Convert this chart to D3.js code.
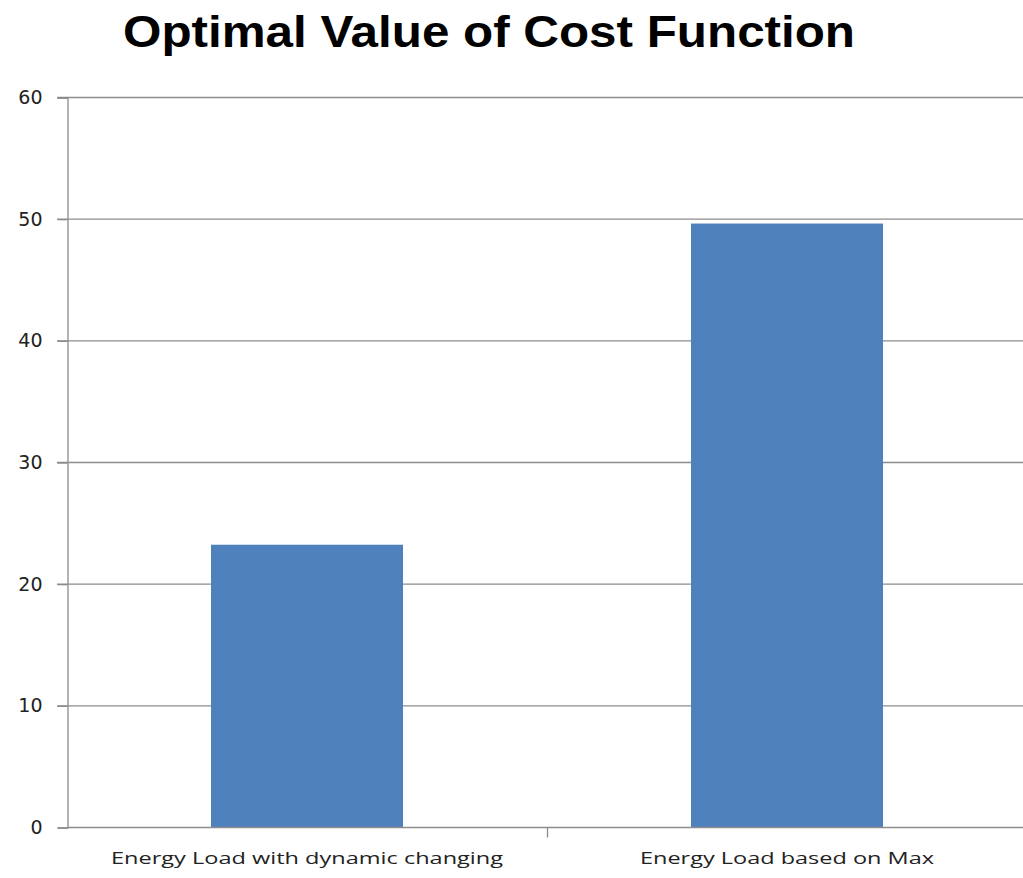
<!DOCTYPE html>
<html><head><meta charset="utf-8">
<script src="https://cdn.jsdelivr.net/npm/d3@7"></script>
<style>html,body{margin:0;padding:0;background:#fff;overflow:hidden}</style>
</head><body>
<script>
const categories = ["Energy Load with dynamic changing", "Energy Load based on Max"];
const values = [23.2, 49.6];
const yTicks = [0, 10, 20, 30, 40, 50, 60];
const titleText = "Optimal Value of Cost Function";

const W = 1023, H = 878;
const svg = d3.select("body").append("svg").attr("width", W).attr("height", H);

const x = d3.scaleBand().domain(categories).range([67, 1027]).paddingInner(0.6).paddingOuter(0.3);
const y = d3.scaleLinear().domain([0, 60]).range([827, 97]);

// gridlines
svg.append("g").selectAll("line").data(yTicks.filter(d => d > 0)).join("line")
  .attr("x1", 57).attr("x2", 1027)
  .attr("y1", d => y(d) + 0.5).attr("y2", d => y(d) + 0.5)
  .attr("stroke", "#8c8c8c").attr("stroke-width", 1.3);

// bars
svg.append("g").selectAll("rect").data(categories).join("rect")
  .attr("x", d => x(d)).attr("width", x.bandwidth())
  .attr("y", (d, i) => y(values[i])).attr("height", (d, i) => y(0) - y(values[i]))
  .attr("fill", "#4f81bd");

// y axis
const yAxis = d3.axisLeft(y).tickValues(yTicks).tickSize(10).tickPadding(15).tickFormat(d3.format("d"));
const ya = svg.append("g").attr("transform", "translate(67.5,0.5)").call(yAxis);
ya.attr("font-size", null).attr("font-family", null);
ya.select(".domain").attr("stroke", "#8c8c8c").attr("stroke-width", 1.3);
ya.selectAll(".tick line").attr("stroke", "#8c8c8c").attr("stroke-width", 1.3);
ya.selectAll("text").style("font-family", "'DejaVu Sans', Verdana, sans-serif").style("font-size", "19px").attr("fill", "#222");

// x axis
const xAxis = d3.axisBottom(x).tickSize(0).tickPadding(24);
const xa = svg.append("g").attr("transform", "translate(0,827.5)").call(xAxis);
xa.attr("font-size", null).attr("font-family", null);
xa.select(".domain").attr("d", "M67,0H1027").attr("stroke", "#8c8c8c").attr("stroke-width", 1.3);
xa.selectAll("text").style("font-family", "'Open Sans', sans-serif").style("font-size", "17px").attr("fill", "#222")
  .attr("textLength", (d, i) => [392, 294][i]).attr("lengthAdjust", "spacingAndGlyphs");
// category boundary tick
const bounds = [x(categories[1]) - x.step() * x.paddingInner() / 2];
xa.append("g").selectAll("line").data(bounds).join("line")
  .attr("x1", d => Math.round(d) + 0.5).attr("x2", d => Math.round(d) + 0.5)
  .attr("y1", 0).attr("y2", 10).attr("stroke", "#8c8c8c").attr("stroke-width", 1.3);

// title
svg.append("text").attr("x", 489).attr("y", 47).attr("text-anchor", "middle")
  .attr("font-family", "'Liberation Sans', Arial, sans-serif").attr("font-weight", "bold")
  .attr("font-size", 45).attr("textLength", 732).attr("lengthAdjust", "spacingAndGlyphs")
  .attr("fill", "#000").text(titleText);
</script>
</body></html>
